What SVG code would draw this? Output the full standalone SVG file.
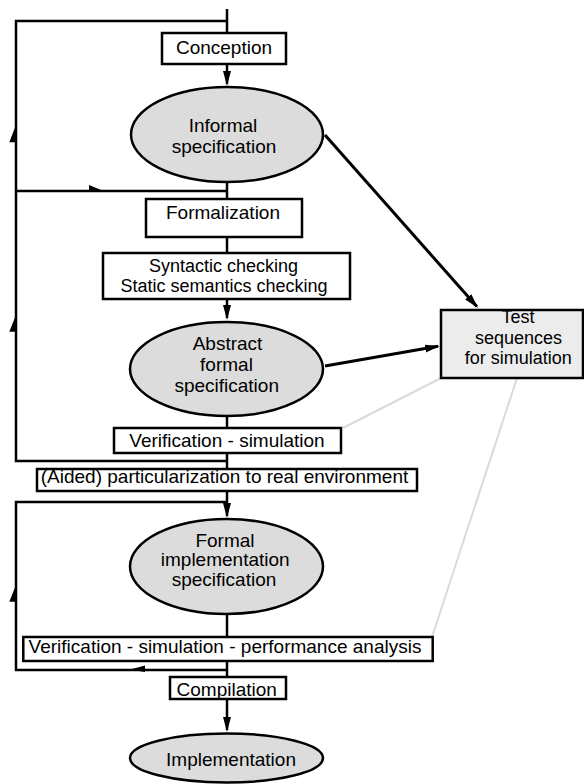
<svg xmlns="http://www.w3.org/2000/svg" width="584" height="784" viewBox="0 0 584 784">
  <style>
    text { font-family: "Liberation Sans", Arial, Helvetica, sans-serif; font-size: 19px; fill: #000; }
    .c { text-anchor: middle; }
    .tight { font-size: 18px; }
    .box { fill: #fff; stroke: #000; stroke-width: 2.5; }
    .state { fill: #dcdcdc; stroke: #000; stroke-width: 2.5; }
    .tests { fill: #ececec; stroke: #000; stroke-width: 2.5; }
    .wire { fill: none; stroke: #000; stroke-width: 2.5; }
    .thick { fill: none; stroke: #000; stroke-width: 3; }
    .trace { fill: none; stroke: #dadada; stroke-width: 2; }
    .barb { fill: #000; stroke: none; }
  </style>
  <defs>
    <marker id="arrow" markerUnits="userSpaceOnUse" markerWidth="16" markerHeight="10" refX="13" refY="4" orient="auto">
      <path d="M0,0 L15,4 L0,8 Z" fill="#000"/>
    </marker>
  </defs>

  <!-- connectors -->
  <g id="connectors">
    <!-- feedback loop around the specification phase -->
    <path class="wire" d="M227,461 H16 V21 H227"/>
    <path class="wire" d="M16,191 H227"/>
    <polygon class="barb" points="16,125 9.3,142.3 16,142.3"/>
    <polygon class="barb" points="16,315 9.3,331.7 16,331.7"/>
    <polygon class="barb" points="89,185 103.5,191 89,191"/>

    <!-- feedback loop around the implementation phase -->
    <path class="wire" d="M227,670 H16 V502 H227"/>
    <polygon class="barb" points="16,585 9.3,601.7 16,601.7"/>
    <polygon class="barb" points="130,669.5 145,665.5 145,672"/>

    <!-- main flow -->
    <path class="wire" d="M227,9 V33"/>
    <path class="wire" d="M227,64 V84" marker-end="url(#arrow)"/>
    <path class="wire" d="M227,182 V199"/>
    <path class="wire" d="M227,237 V253"/>
    <path class="wire" d="M227,299 V318" marker-end="url(#arrow)"/>
    <path class="wire" d="M227,416 V428"/>
    <path class="wire" d="M227,453 V469"/>
    <path class="wire" d="M227,491 V516" marker-end="url(#arrow)"/>
    <path class="wire" d="M227,614 V637"/>
    <path class="wire" d="M227,661 V677"/>
    <path class="wire" d="M227,699 V730" marker-end="url(#arrow)"/>

    <!-- test sequence derivation -->
    <path class="thick" d="M325,135 L476.8,306.5" marker-end="url(#arrow)"/>
    <path class="thick" d="M325,366 L438,346.3" marker-end="url(#arrow)"/>

    <!-- test sequences used by verification -->
    <path class="trace" d="M441,378 L343,428"/>
    <path class="trace" d="M517,378 L432,637"/>
  </g>

  <g id="conception">
    <rect class="box" x="162" y="33" width="124" height="31"/>
    <text class="c" x="224" y="54.3">Conception</text>
  </g>

  <g id="informal-spec">
    <ellipse class="state" cx="227" cy="134.5" rx="96" ry="47.5"/>
    <text class="c" x="223" y="131.5">Informal</text>
    <text class="c" x="224" y="153">specification</text>
  </g>

  <g id="formalization">
    <rect class="box" x="146" y="199" width="156" height="38"/>
    <text class="c" x="223" y="219.3">Formalization</text>
  </g>

  <g id="checking">
    <rect class="box" x="103" y="253" width="247" height="46"/>
    <text class="c tight" x="223.5" y="272">Syntactic checking</text>
    <text class="c tight" x="224" y="292.3">Static semantics checking</text>
  </g>

  <g id="abstract-spec">
    <ellipse class="state" cx="226.5" cy="369" rx="96.5" ry="47"/>
    <text class="c" x="227.5" y="350">Abstract</text>
    <text class="c" x="226.5" y="371">formal</text>
    <text class="c" x="226.7" y="392">specification</text>
  </g>

  <g id="verification">
    <rect class="box" x="114" y="428" width="227" height="25"/>
    <text class="c" x="227" y="446.5">Verification - simulation</text>
  </g>

  <g id="particularization">
    <rect class="box" x="37" y="469" width="380" height="22"/>
    <text class="c" x="224.5" y="482.7">(Aided) particularization to real environment</text>
  </g>

  <g id="implementation-spec">
    <ellipse class="state" cx="226.5" cy="566.5" rx="96.5" ry="47.5"/>
    <text class="c" x="225" y="546.7">Formal</text>
    <text class="c" x="225.2" y="566">implementation</text>
    <text class="c" x="224" y="586">specification</text>
  </g>

  <g id="performance">
    <rect class="box" x="23.3" y="637" width="409.4" height="24"/>
    <text class="c" x="225" y="653.3">Verification - simulation - performance analysis</text>
  </g>

  <g id="compilation">
    <rect class="box" x="170" y="677" width="116" height="22"/>
    <text class="c" x="226.7" y="696">Compilation</text>
  </g>

  <g id="implementation">
    <ellipse class="state" cx="226.5" cy="758" rx="96.5" ry="24.5"/>
    <text class="c" x="231" y="766">Implementation</text>
  </g>

  <g id="test-sequences">
    <rect class="tests" x="441" y="310" width="142" height="68"/>
    <text class="c tight" x="518" y="323.3">Test</text>
    <text class="c tight" x="518.5" y="343.6">sequences</text>
    <text class="c tight" x="518.3" y="363.9">for simulation</text>
  </g>
</svg>
